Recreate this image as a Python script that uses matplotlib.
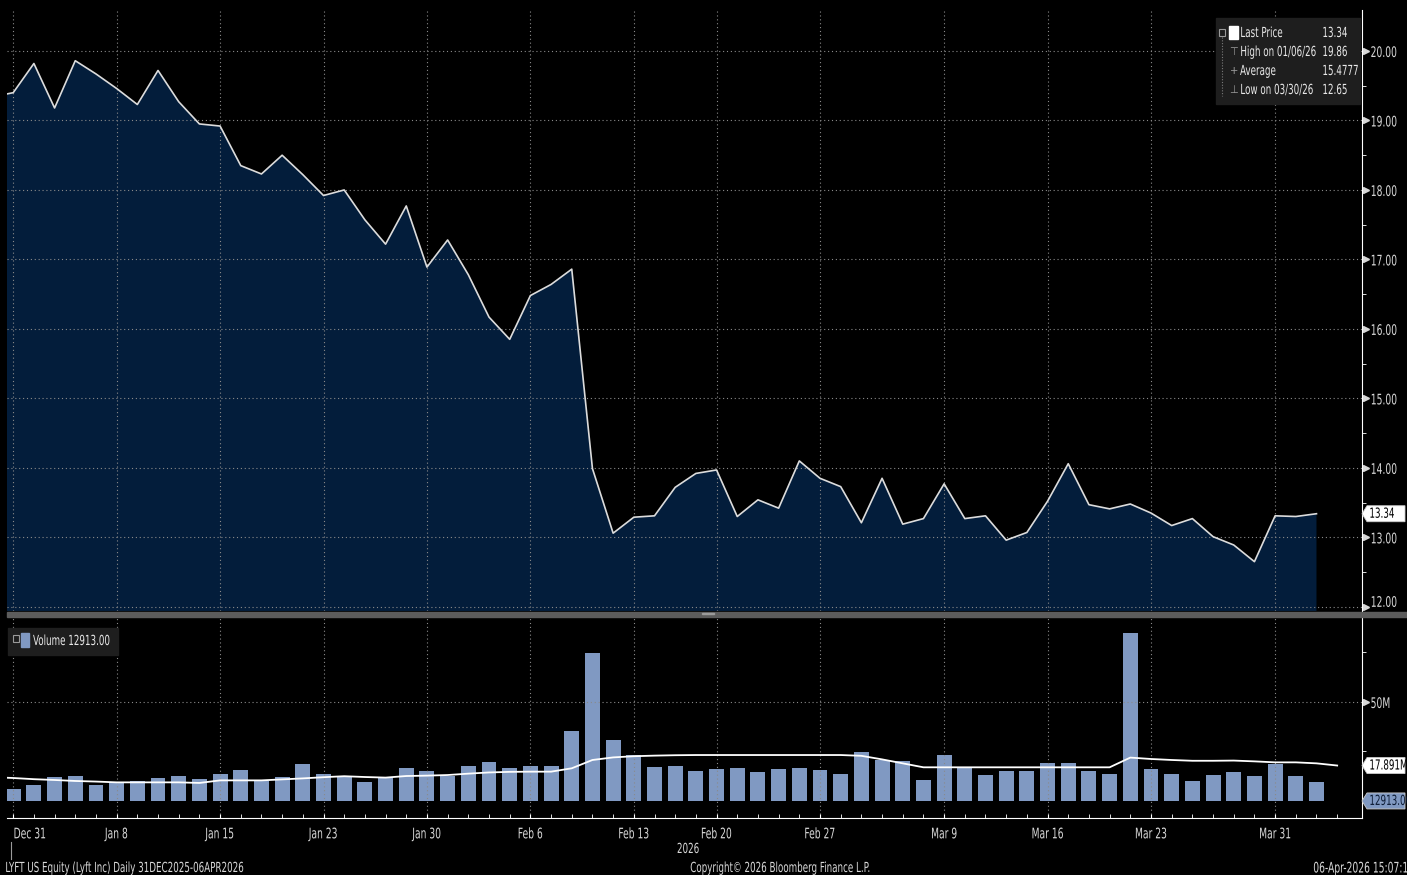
import numpy as np
import matplotlib
matplotlib.use("Agg")
import matplotlib.pyplot as plt
from matplotlib.patches import Rectangle, Polygon
from matplotlib.patheffects import AbstractPathEffect
from matplotlib.transforms import Affine2D, IdentityTransform, blended_transform_factory, offset_copy

plt.rcParams['font.family'] = ['DejaVu Sans']
plt.rcParams['font.stretch'] = 'condensed'

# trading days shown on the chart
dates = ["Dec 31", "Jan 2", "Jan 5", "Jan 6", "Jan 7", "Jan 8", "Jan 9", "Jan 12", "Jan 13",
         "Jan 14", "Jan 15", "Jan 16", "Jan 20", "Jan 21", "Jan 22", "Jan 23", "Jan 26",
         "Jan 27", "Jan 28", "Jan 29", "Jan 30", "Feb 2", "Feb 3", "Feb 4", "Feb 5", "Feb 6",
         "Feb 9", "Feb 10", "Feb 11", "Feb 12", "Feb 13", "Feb 17", "Feb 18", "Feb 19",
         "Feb 20", "Feb 23", "Feb 24", "Feb 25", "Feb 26", "Feb 27", "Mar 2", "Mar 3",
         "Mar 4", "Mar 5", "Mar 6", "Mar 9", "Mar 10", "Mar 11", "Mar 12", "Mar 13",
         "Mar 16", "Mar 17", "Mar 18", "Mar 19", "Mar 20", "Mar 23", "Mar 24", "Mar 25",
         "Mar 26", "Mar 27", "Mar 30", "Mar 31", "Apr 1", "Apr 2", "Apr 6"]
label_dates = ["Dec 31", "Jan 8", "Jan 15", "Jan 23", "Jan 30", "Feb 6", "Feb 13",
               "Feb 20", "Feb 27", "Mar 9", "Mar 16", "Mar 23", "Mar 31"]

prev_close = 19.34  # Dec 30, only the edge is visible
close = [19.40, 19.82, 19.18, 19.86, 19.67, 19.46, 19.23, 19.72, 19.27, 18.95,
         18.92, 18.35, 18.23, 18.50, 18.22, 17.92, 18.00, 17.57, 17.22, 17.77,
         16.89, 17.28, 16.78, 16.17, 15.85, 16.48, 16.64, 16.86, 13.99, 13.06,
         13.29, 13.31, 13.72, 13.92, 13.97, 13.30, 13.54, 13.42, 14.10, 13.85,
         13.73, 13.21, 13.85, 13.19, 13.27, 13.77, 13.27, 13.31, 12.96, 13.07,
         13.52, 14.06, 13.47, 13.41, 13.48, 13.35, 13.17, 13.27, 13.01, 12.89,
         12.65, 13.31, 13.30, 13.34]

# volume in millions
volume = [6.1, 7.9, 12.0, 12.5, 7.9, 9.4, 10.3, 11.4, 12.5, 10.9,
          13.6, 15.5, 10.1, 12.0, 18.5, 13.6, 12.8, 9.6, 11.8, 16.5,
          15.0, 12.6, 17.7, 19.5, 16.5, 17.8, 17.8, 35.5, 74.6, 30.8,
          23.2, 17.2, 17.8, 15.3, 16.2, 16.7, 14.5, 16.2, 16.7, 15.5,
          13.6, 24.9, 20.7, 20.2, 10.6, 23.2, 16.8, 13.0, 15.2, 15.2,
          19.2, 19.2, 15.2, 13.6, 84.7, 16.2, 13.6, 10.3, 13.0, 14.5,
          12.6, 18.7, 12.6, 9.6, 0.012913]
vol_avg_prev = 12.0
vol_avg = [11.6, 11.0, 10.6, 10.1, 9.8, 9.4, 9.4, 9.4, 9.4, 9.1,
           10.4, 10.4, 10.4, 10.9, 11.4, 12.0, 12.5, 12.1, 11.8, 12.6,
           12.8, 13.1, 13.8, 14.4, 14.7, 14.8, 14.8, 16.5, 20.7, 22.0,
           22.6, 22.9, 23.1, 23.2, 23.2, 23.2, 23.2, 23.2, 23.2, 23.2,
           23.2, 22.8, 21.0, 19.0, 17.0, 17.0, 17.0, 17.0, 17.0, 17.0,
           17.0, 17.0, 17.0, 17.0, 21.9, 21.2, 20.7, 20.3, 20.3, 20.4,
           20.0, 19.5, 19.5, 19.0, 17.9]

BG = "black"
FG = "#d8d8d8"
NAVY = "#031d3b"
BARC = "#8099c2"
GRID = "#8a8a8a"
FS = 10
SX = 0.7  # bloomberg font is very narrow


class Squeeze(AbstractPathEffect):
    """draw text narrower, keeping its left edge or centre in place"""

    def __init__(self, sx=SX, anchor="left"):
        super().__init__()
        self.sx = sx
        self.anchor = anchor

    def draw_path(self, renderer, gc, tpath, affine, rgbFace=None):
        ext = tpath.get_extents(affine)
        x0 = ext.x0 if self.anchor == "left" else 0.5 * (ext.x0 + ext.x1)
        aff = affine + Affine2D().translate(-x0, 0).scale(self.sx, 1).translate(x0, 0)
        renderer.draw_path(gc, tpath, aff, rgbFace)


W, H = 1407, 875
fig = plt.figure(figsize=(W / 100, H / 100), dpi=100, facecolor=BG)


def box(l, t, r, b):
    return [l / W, 1 - b / H, (r - l) / W, (b - t) / H]


ax_p = fig.add_axes(box(7, 10, 1362, 611))
ax_v = fig.add_axes(box(7, 618, 1362, 818), sharex=ax_p)

xp = np.arange(-1, len(close))
yp = [prev_close] + close
ax_p.fill_between(xp, yp, 0, color=NAVY, lw=0)
ax_p.plot(xp, yp, color="#dcdcdc", lw=1.2)

xv = np.arange(len(volume))
ax_v.bar(xv, volume, width=0.72, color=BARC)
ax_v.plot(np.arange(-1, len(vol_avg)), [vol_avg_prev] + vol_avg, color="white", lw=1.3)

ax_p.set_xlim(-0.3, 65.2)
ax_p.set_ylim(11.94, 20.59)
ax_v.set_ylim(-8.6, 92.4)

lab_idx = [dates.index(d) for d in label_dates]
for ax in (ax_p, ax_v):
    ax.set_facecolor(BG)
    for s in ("left", "top", "bottom"):
        ax.spines[s].set_visible(False)
    ax.spines["right"].set_color("white")
    ax.yaxis.tick_right()
    ax.set_xticks(lab_idx)
    ax.set_xticks(xv, minor=True)
    ax.grid(True, which="major", color=GRID, ls=(0, (1, 2.5)), lw=0.8)
    ax.tick_params(axis="y", which="major", length=0, pad=6, colors=FG, labelsize=FS + 0.5)
    ax.tick_params(axis="y", which="minor", length=3, direction="out", color="white")

price_ticks = list(range(12, 21))
ax_p.set_yticks(price_ticks)
ax_p.set_yticks(np.arange(12.5, 20.5, 1.0), minor=True)
ax_p.set_yticklabels(["%.2f" % v for v in price_ticks])
ax_p.get_yticklabels()[0].set_va("baseline")
ax_p.tick_params(axis="x", which="both", length=0, labelbottom=False)

vol_ticks = [50]
ax_v.set_yticks(vol_ticks)
ax_v.set_yticks([25, 75], minor=True)
ax_v.set_yticklabels(["50M"])
ax_v.spines["bottom"].set_visible(True)
ax_v.spines["bottom"].set_color("white")
ax_v.tick_params(axis="x", which="both", direction="in", color="white", length=3,
                 colors=FG, labelsize=FS + 0.5, pad=6)
ax_v.set_xticklabels(label_dates)
ax_v.get_xticklabels()[0].set_ha("left")

for lab in ax_p.get_yticklabels() + ax_v.get_yticklabels():
    lab.set_path_effects([Squeeze()])
for k, lab in enumerate(ax_v.get_xticklabels()):
    lab.set_path_effects([Squeeze(anchor="left" if k == 0 else "center")])

# small arrow heads at the labelled ticks
for ax, ticks in ((ax_p, price_ticks), (ax_v, vol_ticks)):
    tr = offset_copy(blended_transform_factory(ax.transAxes, ax.transData), fig, x=4, units="dots")
    ax.plot([1.0] * len(ticks), ticks, ls="none", marker=">", ms=4, color=FG,
            transform=tr, clip_on=False)


def ftext(x, y, s, sq="left", **kw):
    kw.setdefault("fontsize", FS)
    kw.setdefault("color", FG)
    kw.setdefault("va", "center")
    t = fig.text(x / W, 1 - y / H, s, **kw)
    if sq:
        t.set_path_effects([Squeeze(anchor=sq)])
    return t


def frect(l, t, r, b, **kw):
    fig.add_artist(Rectangle((l / W, 1 - b / H), (r - l) / W, (b - t) / H,
                             transform=fig.transFigure, **kw))


def tag(ax, y, text, fc, tc):
    # value flag on the right axis, pointing at the level
    yc = H - ax.transData.transform((0, y))[1]
    pts = [(1362, yc), (1367, yc - 8), (1405, yc - 8), (1405, yc + 8), (1367, yc + 8)]
    fig.add_artist(Polygon([(px, H - py) for px, py in pts], closed=True, fc=fc, ec="#cccccc",
                           lw=0.6, transform=IdentityTransform()))
    ftext(1369, yc, text, color=tc)


tag(ax_p, close[-1], "%.2f" % close[-1], "white", "black")
tag(ax_v, vol_avg[-1], "17.891M", "white", "black")
tag(ax_v, volume[-1], "12913.00", BARC, "#0b1a33")

# splitter between panels
frect(7, 612, W, 617, color="#5c5c5c")
frect(702, 613, 714, 614, color="#9a9a9a")

# price legend
frect(1216, 18, 1360, 104, color="#1e1e1e")
frect(1219, 29, 1225, 36, fill=False, ec="#9a9a9a", lw=0.8)
frect(1229, 26, 1238, 39, color="white")
fig.add_artist(plt.Line2D([1222 / W, 1222 / W], [1 - 37 / H, 1 - 96 / H], color="#7a7a7a",
                          ls=(0, (1, 1.5)), lw=0.8, transform=fig.transFigure))
legend_rows = [("Last Price", "%.2f" % close[-1]),
               ("High on 01/06/26", "%.2f" % max(close)),
               ("Average", "15.4777"),
               ("Low on 03/30/26", "%.2f" % min(close))]
marks = [None, "\u22a4", "+", "\u22a5"]
for k, (name, val) in enumerate(legend_rows):
    y = 33 + 19 * k
    ftext(1240, y, name, color="#e8e8e8")
    ftext(1322, y, val, color="#e8e8e8")
    if marks[k]:
        ftext(1234, y, marks[k], sq=None, ha="center", color="#9a9a9a", fontsize=8)

# volume legend
frect(8, 628, 118, 655, color="#1e1e1e")
frect(13, 635, 19, 642, fill=False, ec="#9a9a9a", lw=0.8)
frect(21, 633, 29, 647, color=BARC)
ftext(33, 641, "Volume 12913.00", color="#e8e8e8")

# year marker and footer
fig.add_artist(plt.Line2D([11 / W, 11 / W], [1 - 842 / H, 1 - 859 / H], color="#9a9a9a",
                          lw=0.8, transform=fig.transFigure))
ftext(688, 849, "2026", sq="center", ha="center")
ftext(5, 868, "LYFT US Equity (Lyft Inc) Daily 31DEC2025-06APR2026", fontsize=10)
ftext(690, 868, "Copyright\u00a9 2026 Bloomberg Finance L.P.", fontsize=10)
ftext(1313, 868, "06-Apr-2026 15:07:18", fontsize=10.5)

fig.savefig("out.png", dpi=100, facecolor=BG)
